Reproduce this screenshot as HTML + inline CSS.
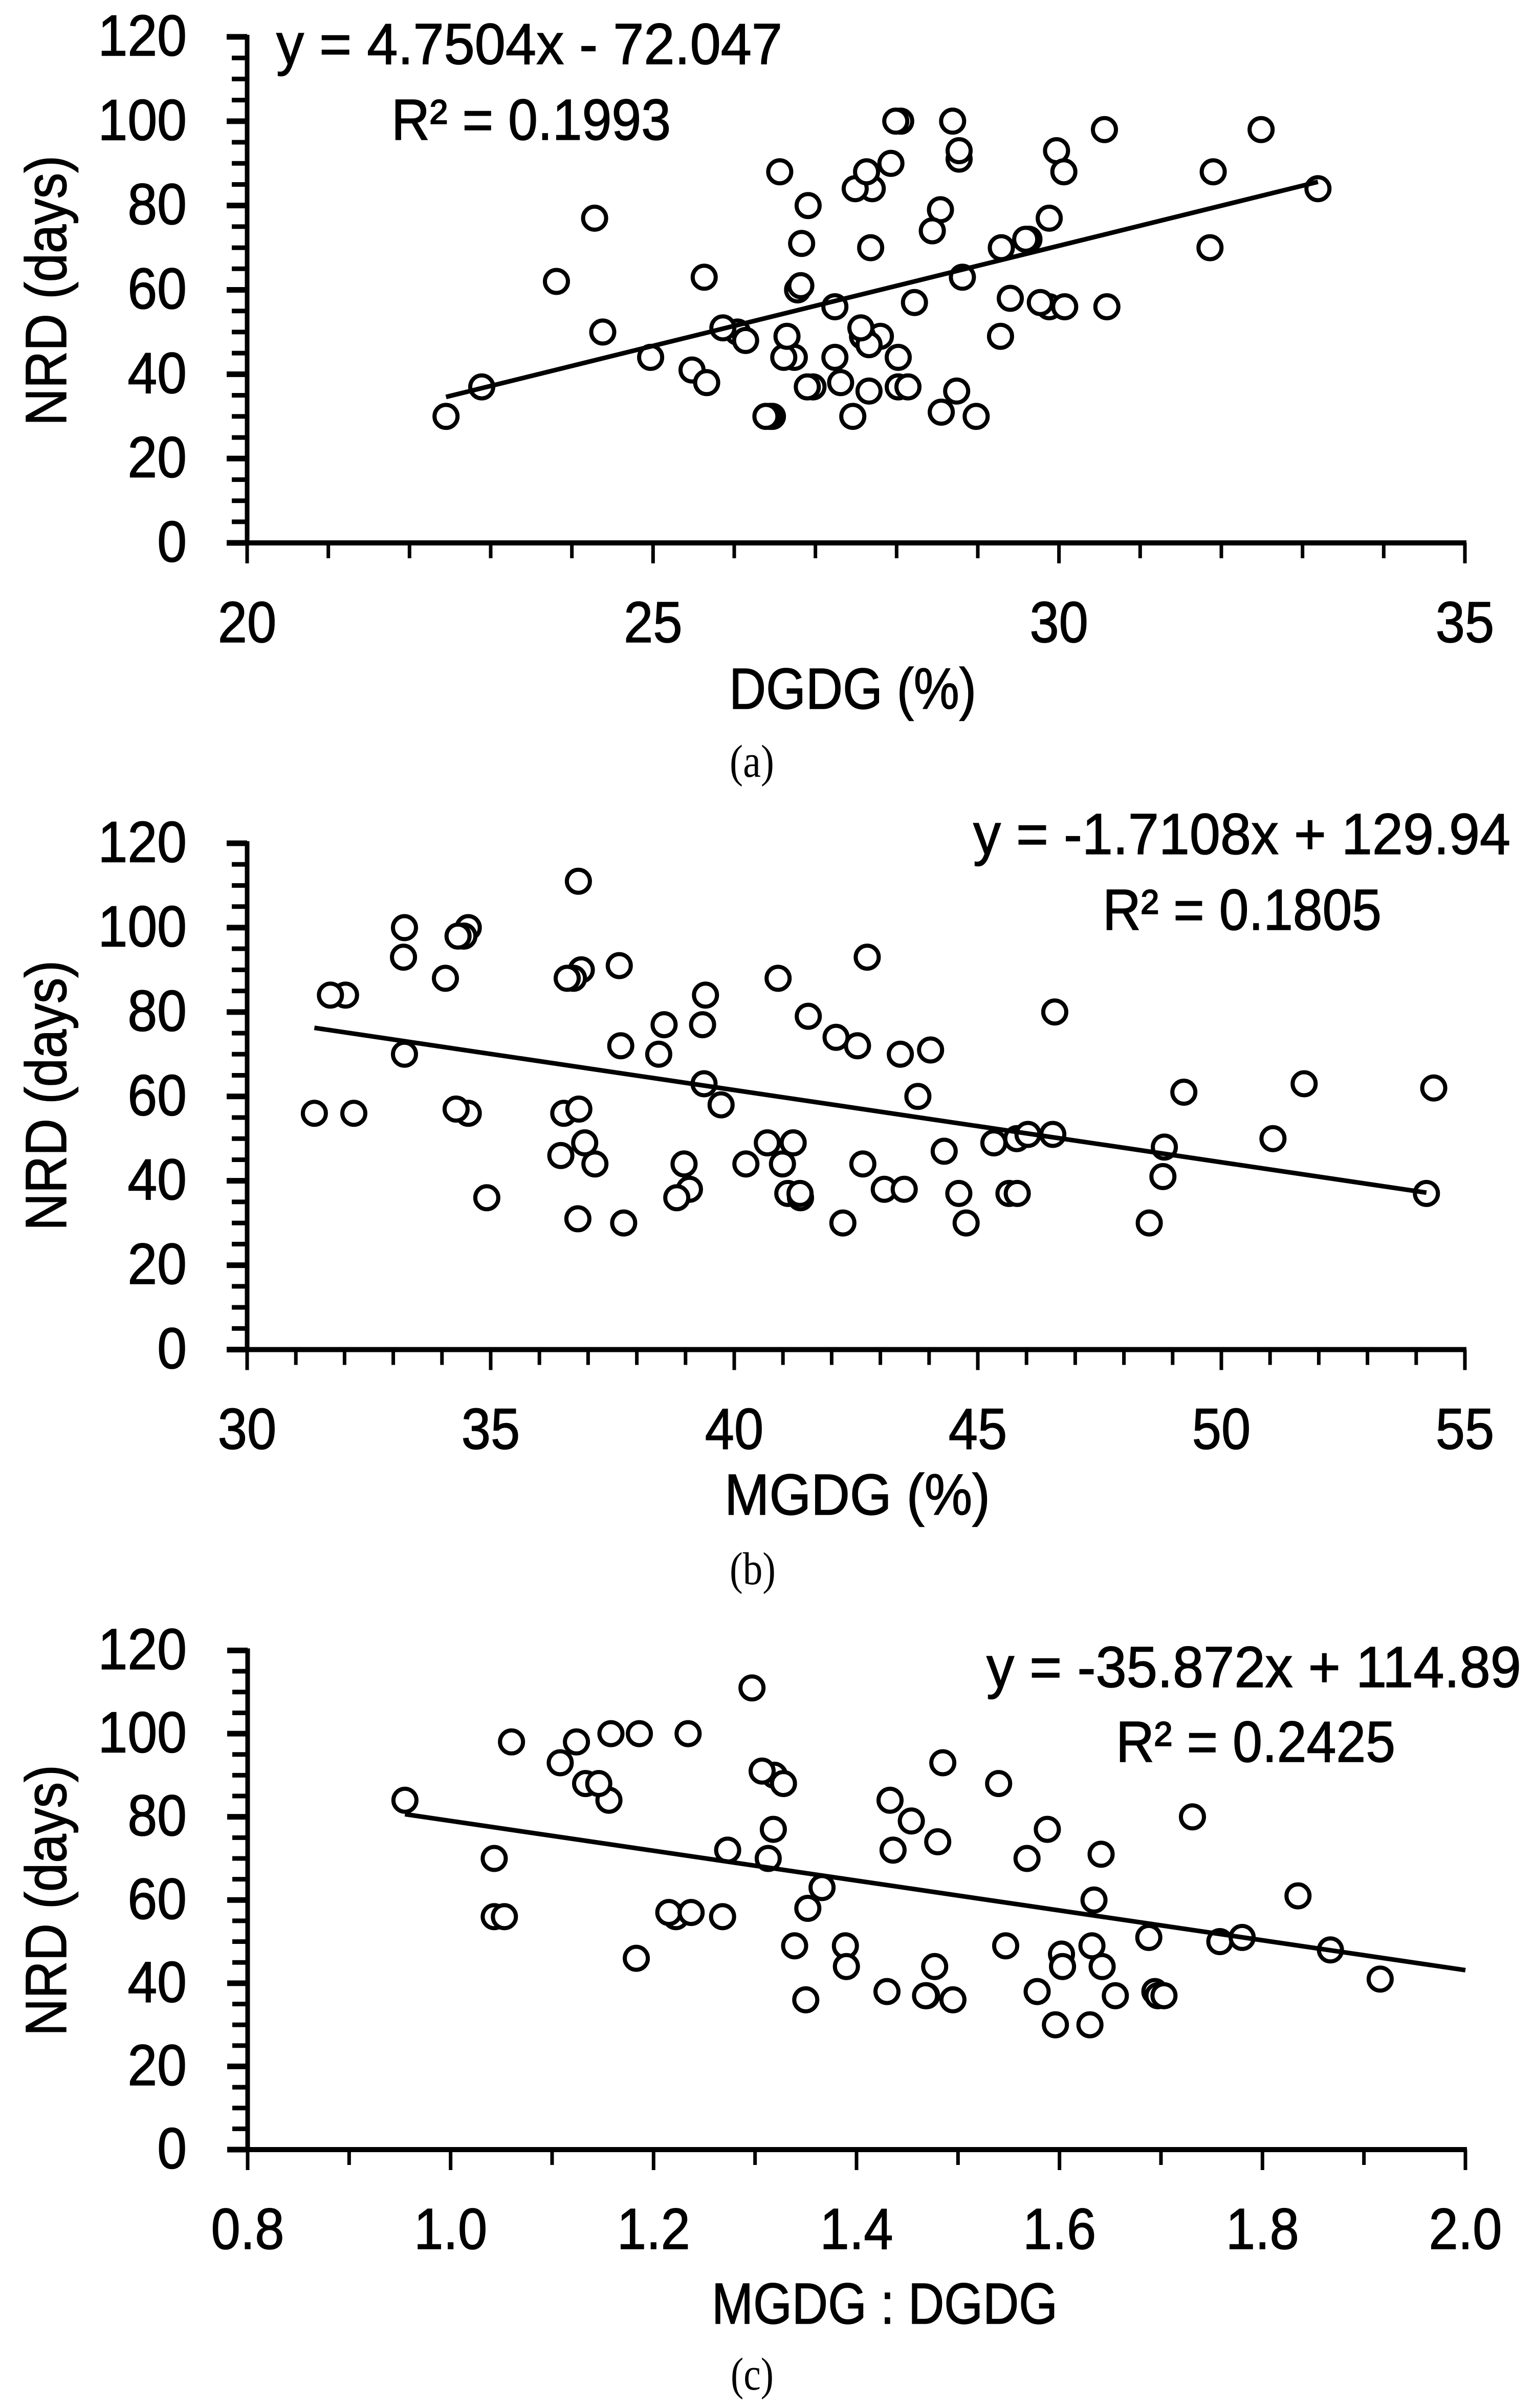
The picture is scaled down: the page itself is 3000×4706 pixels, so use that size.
<!DOCTYPE html>
<html lang="en">
<head>
<meta charset="utf-8">
<title>NRD scatter plots</title>
<style>
html,body{margin:0;padding:0;background:#fff;width:3000px;height:4706px;overflow:hidden}
svg{display:block}
text{fill:#000;stroke:#000;stroke-width:1.5px;font-family:"Liberation Sans",sans-serif;font-size:113px}
.cap{font-family:"Liberation Serif",serif;font-size:90px;stroke-width:0}
</style>
</head>
<body>
<svg id="figure" xmlns="http://www.w3.org/2000/svg" width="3000" height="4706" viewBox="0 0 3000 4706">
  <rect width="3000" height="4706" fill="#fff"/>
  <g id="panel-a"></g>
  <g id="panel-b"></g>
  <g id="panel-c"></g>

  <text transform="translate(129,832) rotate(-90)" textLength="528" lengthAdjust="spacingAndGlyphs">NRD (days)</text>
  <text x="1425" y="1385" textLength="483" lengthAdjust="spacingAndGlyphs">DGDG (%)</text>
  <text x="540" y="125" textLength="989" lengthAdjust="spacingAndGlyphs">y = 4.7504x - 72.047</text>
  <text x="765" y="273" textLength="546" lengthAdjust="spacingAndGlyphs">R² = 0.1993</text>
  <text class="cap" x="1426" y="1518" textLength="87" lengthAdjust="spacingAndGlyphs">(a)</text>

  <text transform="translate(129,2405) rotate(-90)" textLength="528" lengthAdjust="spacingAndGlyphs">NRD (days)</text>
  <text x="1416" y="2960" textLength="519" lengthAdjust="spacingAndGlyphs">MGDG (%)</text>
  <text x="1902" y="1669" textLength="1050" lengthAdjust="spacingAndGlyphs">y = -1.7108x + 129.94</text>
  <text x="2155" y="1817" textLength="545" lengthAdjust="spacingAndGlyphs">R² = 0.1805</text>
  <text class="cap" x="1426" y="3096" textLength="90" lengthAdjust="spacingAndGlyphs">(b)</text>

  <text transform="translate(129,3979) rotate(-90)" textLength="530" lengthAdjust="spacingAndGlyphs">NRD (days)</text>
  <text x="1391" y="4541" textLength="676" lengthAdjust="spacingAndGlyphs">MGDG : DGDG</text>
  <text x="1928" y="3297" textLength="1045" lengthAdjust="spacingAndGlyphs">y = -35.872x + 114.89</text>
  <text x="2181" y="3443" textLength="546" lengthAdjust="spacingAndGlyphs">R² = 0.2425</text>
  <text class="cap" x="1428" y="4670" textLength="84" lengthAdjust="spacingAndGlyphs">(c)</text>
</svg>

<script>
// ---- shared y axis ----
const yTickValues = [0, 20, 40, 60, 80, 100, 120];

// ---- panel a: DGDG (%) vs NRD (days) ----
const aTickValues = [20, 25, 30, 35];
const aDgdg = [22.45,22.89,24.28,23.81,24.38,24.97,25.63,25.48,25.66,26.04,25.86,26.14,26.47,26.44,26.39,26.56,26.91,26.83,26.78,26.82,26.74,26.61,26.65,26.97,26.90,27.24,27.24,27.31,27.46,27.66,27.80,27.58,27.66,27.56,28.02,28.02,28.14,28.22,27.70,27.49,27.63,27.93,27.68,28.05,27.99,28.69,28.77,28.77,28.54,28.44,28.81,28.74,28.55,28.98,29.28,29.40,29.29,29.63,29.59,29.88,29.77,30.07,29.88,29.97,30.06,30.59,30.56,31.86,31.90,32.49,33.19];
const aNrd = [30,37,77,62,50,44,63,41,38,50,51,48,30,30,30,88,80,71,60,61,44,44,49,37,37,56,44,38,30,36,49,49,47,51,44,37,37,57,84,84,88,90,70,100,100,100,91,93,79,74,63,36,31,30,49,58,70,72,72,56,57,56,77,93,88,56,98,70,88,98,84];
const aSlope = 4.7504;
const aIntercept = -72.047;
const aTrendRange = [22.45, 33.19];

// ---- panel b: MGDG (%) vs NRD (days) ----
const bTickValues = [30, 35, 40, 45, 50, 55];
const bMgdg = [31.38,32.19,32.02,31.71,33.23,33.21,33.23,34.07,34.54,34.45,34.33,34.54,34.29,34.92,36.50,36.44,36.81,36.80,36.86,36.70,36.57,37.64,37.67,37.14,36.93,36.79,37.73,38.56,38.45,39.35,39.41,39.38,39.73,39.08,38.97,38.82,40.24,40.68,40.90,41.21,40.99,41.10,41.36,41.35,41.52,42.09,42.53,42.73,42.64,42.23,43.08,43.49,43.41,44.03,43.77,44.31,44.61,44.76,45.33,45.64,45.81,45.80,46.03,46.54,46.58,48.52,48.80,48.83,49.23,51.06,51.70,54.21,54.36];
const bNrd = [56,56,84,84,100,93,70,88,100,98,98,56,57,36,56,46,57,111,90,88,88,91,72,44,49,31,30,77,70,77,84,63,58,38,44,36,44,49,88,49,44,37,36,37,79,74,72,93,44,30,38,38,70,71,60,47,37,30,49,37,37,50,51,51,80,30,41,48,61,50,63,37,62];
const bSlope = -1.7108;
const bIntercept = 129.94;
const bTrendRange = [31.38, 54.21];

// ---- panel c: MGDG:DGDG vs NRD (days) ----
const cTickValues = [0.8, 1.0, 1.2, 1.4, 1.6, 1.8, 2.0];
const cRatio = [0.955,1.043,1.043,1.053,1.060,1.108,1.124,1.156,1.133,1.146,1.158,1.186,1.183,1.222,1.215,1.237,1.234,1.268,1.273,1.297,1.319,1.307,1.328,1.318,1.313,1.366,1.352,1.339,1.389,1.390,1.350,1.430,1.433,1.436,1.454,1.480,1.485,1.477,1.469,1.468,1.495,1.540,1.547,1.568,1.578,1.588,1.596,1.602,1.603,1.630,1.632,1.634,1.641,1.642,1.655,1.688,1.694,1.697,1.703,1.731,1.758,1.780,1.835,1.867,1.916];
const cNrd = [84,70,56,56,98,93,98,84,88,88,100,100,46,56,57,57,100,56,72,111,90,91,88,77,70,63,58,49,49,44,36,38,84,72,79,74,93,44,37,37,36,88,49,70,38,77,30,47,44,30,49,60,71,44,37,51,38,37,37,80,50,51,61,48,41];
const cSlope = -35.872;
const cIntercept = 114.89;
const cTrendRange = [0.955, 2.0];

const NS = 'http://www.w3.org/2000/svg';

function scale(d0, d1, r0, r1) {
  return function (v) { return r0 + (v - d0) * (r1 - r0) / (d1 - d0); };
}

function drawPanel(id, prefix, xs, ys, xTicks, xMinor, decimals, slope, intercept, trendRange, box) {
  const root = document.getElementById(id);
  const xMin = xTicks[0];
  const xMax = xTicks[xTicks.length - 1];
  const xPos = scale(xMin, xMax, box.left, box.right);
  const yPos = scale(0, 120, box.bottom, box.top);

  // y axis line
  const yLine = document.createElementNS(NS, 'line');
  
  
  yLine.setAttribute('x1', box.left);
  yLine.setAttribute('x2', box.left);
  yLine.setAttribute('y1', yPos(120) - 4);
  yLine.setAttribute('y2', box.bottom + 4);
  yLine.setAttribute('stroke', '#000');
  yLine.setAttribute('stroke-width', 9);
  root.appendChild(yLine);

  // y ticks (minor step of 5, labelled ticks longer and heavier)
  for (let i = 0; i <= 24; i++) {
    const v = i * 5;
    const isMajor = yTickValues.indexOf(v) >= 0;
    const t = document.createElementNS(NS, 'line');
    
    
    t.setAttribute('x1', box.left - (isMajor ? 40 : 30));
    t.setAttribute('x2', box.left);
    t.setAttribute('y1', yPos(v));
    t.setAttribute('y2', yPos(v));
    t.setAttribute('stroke', '#000');
    t.setAttribute('stroke-width', isMajor ? 11 : 9);
    root.appendChild(t);
  }

  // x axis line
  const xLine = document.createElementNS(NS, 'line');
  
  
  xLine.setAttribute('x1', box.left - 40);
  xLine.setAttribute('x2', box.right + 3);
  xLine.setAttribute('y1', box.bottom);
  xLine.setAttribute('y2', box.bottom);
  xLine.setAttribute('stroke', '#000');
  xLine.setAttribute('stroke-width', 10);
  root.appendChild(xLine);

  // x ticks
  const nTicks = Math.round((xMax - xMin) / xMinor);
  const majorEvery = Math.round((xTicks[1] - xTicks[0]) / xMinor);
  for (let i = 0; i <= nTicks; i++) {
    const v = xMin + i * xMinor;
    const isMajor = i % majorEvery === 0;
    const t = document.createElementNS(NS, 'line');
    
    
    t.setAttribute('x1', xPos(v));
    t.setAttribute('x2', xPos(v));
    t.setAttribute('y1', box.bottom);
    t.setAttribute('y2', box.bottom + (isMajor ? 40 : 30));
    t.setAttribute('stroke', '#000');
    t.setAttribute('stroke-width', 7);
    root.appendChild(t);
  }

  // y tick labels
  yTickValues.forEach(function (v) {
    const el = document.createElementNS(NS, 'text');
    
    
    el.setAttribute('x', 365);
    el.setAttribute('y', yPos(v) + 36.5);
    el.setAttribute('text-anchor', 'end');
    el.textContent = String(v);
    root.appendChild(el);
    el.setAttribute('textLength', (el.getComputedTextLength() * 0.92).toFixed(1));
    el.setAttribute('lengthAdjust', 'spacingAndGlyphs');
  });

  // x tick labels
  xTicks.forEach(function (v) {
    const el = document.createElementNS(NS, 'text');
    
    
    el.setAttribute('x', xPos(v));
    el.setAttribute('y', box.bottom + 194);
    el.setAttribute('text-anchor', 'middle');
    el.textContent = v.toFixed(decimals);
    root.appendChild(el);
    el.setAttribute('textLength', (el.getComputedTextLength() * 0.91).toFixed(1));
    el.setAttribute('lengthAdjust', 'spacingAndGlyphs');
  });

  // points
  xs.forEach(function (x, i) {
    const c = document.createElementNS(NS, 'circle');
    
    
    c.setAttribute('cx', xPos(x).toFixed(1));
    c.setAttribute('cy', yPos(ys[i]).toFixed(1));
    c.setAttribute('r', 22.5);
    c.setAttribute('fill', '#fff');
    c.setAttribute('stroke', '#000');
    c.setAttribute('stroke-width', 8);
    root.appendChild(c);
  });

  // trend line
  const trend = document.createElementNS(NS, 'line');
  
  
  trend.setAttribute('x1', xPos(trendRange[0]).toFixed(1));
  trend.setAttribute('y1', yPos(slope * trendRange[0] + intercept).toFixed(1));
  trend.setAttribute('x2', xPos(trendRange[1]).toFixed(1));
  trend.setAttribute('y2', yPos(slope * trendRange[1] + intercept).toFixed(1));
  trend.setAttribute('stroke', '#000');
  trend.setAttribute('stroke-width', 9);
  root.appendChild(trend);
}

drawPanel('panel-a', 'panel-a', aDgdg, aNrd, aTickValues, 1, 0, aSlope, aIntercept, aTrendRange,
  { left: 483, right: 2863, top: 72, bottom: 1061 });
drawPanel('panel-b', 'panel-b', bMgdg, bNrd, bTickValues, 1, 0, bSlope, bIntercept, bTrendRange,
  { left: 483, right: 2863, top: 1648, bottom: 2637.5 });
drawPanel('panel-c', 'panel-c', cRatio, cNrd, cTickValues, 0.1, 1, cSlope, cIntercept, cTrendRange,
  { left: 484, right: 2864, top: 3225.5, bottom: 4201 });
</script>
</body>
</html>
